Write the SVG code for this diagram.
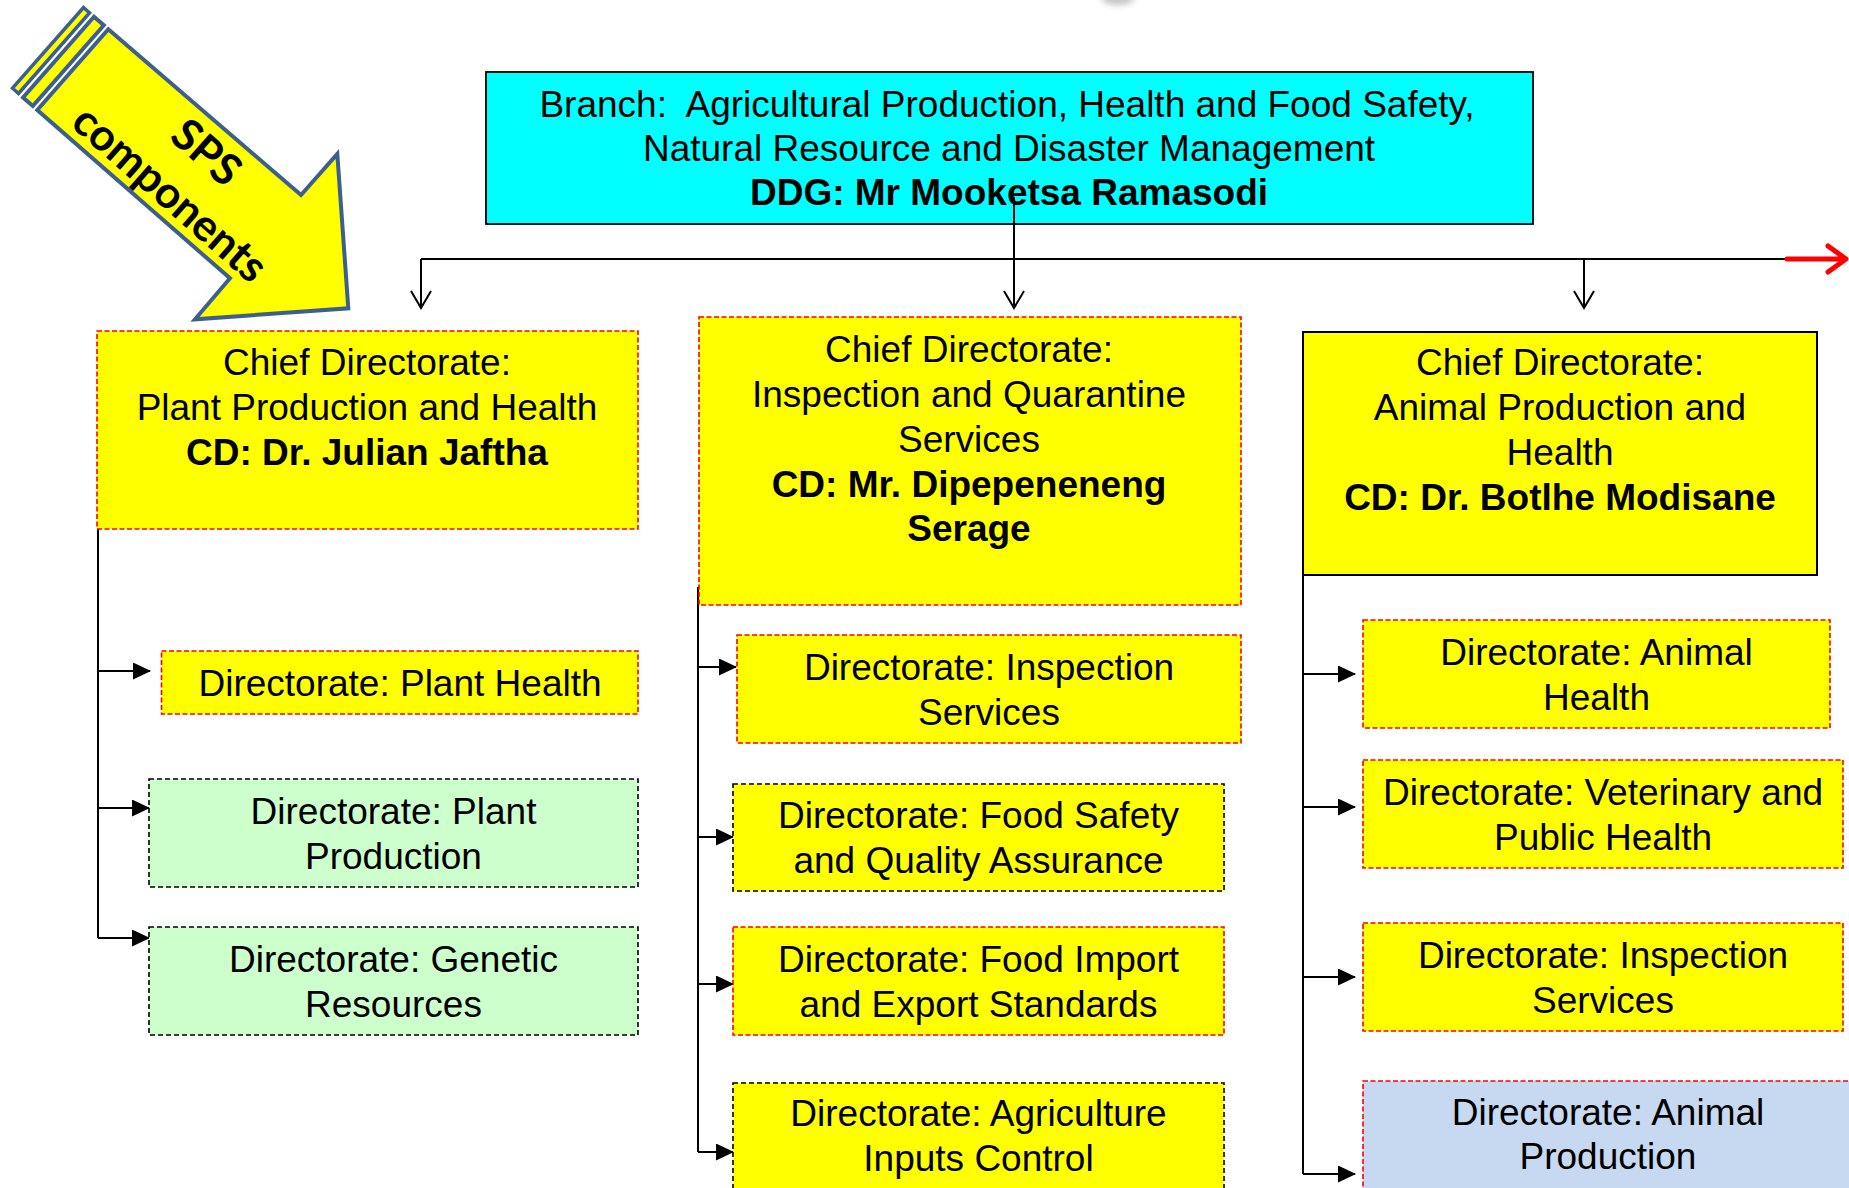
<svg xmlns="http://www.w3.org/2000/svg" width="1849" height="1188" viewBox="0 0 1849 1188">
<style>
.t{font-family:"Liberation Sans",Arial,sans-serif;font-size:37px;fill:#000;text-anchor:middle}
.b{font-weight:bold}
.y{fill:#FFFF00}
.g{fill:#CCFFCC}
.bl{fill:#C6D9F0}
.red{stroke:#FF0000;stroke-width:1.6;stroke-dasharray:5 2.5}
.blk{stroke:#000;stroke-width:1.6;stroke-dasharray:5 3}
.conn{stroke:#000;stroke-width:2;fill:none}
.arr{fill:#FFFF00;stroke:#3D5F8F;stroke-width:4;stroke-linejoin:miter}
.sps{font-family:Lato,"Liberation Sans",sans-serif;font-weight:bold;font-size:44px;fill:#000;text-anchor:middle}
</style>
<defs>
<marker id="ah" markerUnits="userSpaceOnUse" markerWidth="18" markerHeight="17" viewBox="0 0 18 17" refX="17" refY="8.5" orient="auto"><path d="M0,0 L18,8.5 L0,17 z" fill="#000"/></marker>
<marker id="av" markerUnits="userSpaceOnUse" markerWidth="24" markerHeight="24" viewBox="-2 -12 24 24" refX="17" refY="0" orient="auto"><path d="M0,-10 L17,0 L0,10" fill="none" stroke="#000" stroke-width="2"/></marker>
<filter id="blur" x="-50%" y="-50%" width="200%" height="200%"><feGaussianBlur stdDeviation="3"/></filter>
</defs>
<rect width="1849" height="1188" fill="#fff"/>
<ellipse cx="1118" cy="-1" rx="16" ry="6" fill="#888" opacity="0.5" filter="url(#blur)"/>

<g id="sps-arrow">
<polygon class="arr" points="83.5,7.5 89.5,12.8 18.55,93.5 12.55,88.2" style="stroke-width:3.5"/>
<polygon class="arr" points="94,16.8 103.8,25.3 32.85,106 23.05,97.5"/>
<polygon class="arr" points="108.3,29.3 301,195 337.3,154 348.3,308.3 195,319.3 230,278.3 37.3,110"/>
<g transform="translate(189.2,172) rotate(41.3)">
<text class="sps" x="0" y="-11">SPS</text>
<text class="sps" x="0" y="44">components</text>
</g>
</g>

<g id="connectors">
<path class="conn" d="M421,259 H1787"/>
<path d="M1787,259 H1843 M1828,246 L1846,259 L1828,272" fill="none" stroke="#FF0000" stroke-width="5" stroke-linecap="round" stroke-linejoin="round"/>
<path class="conn" d="M421,259 V308" marker-end="url(#av)"/>
<path class="conn" d="M1014,197 V308" marker-end="url(#av)"/>
<path class="conn" d="M1584,259 V308" marker-end="url(#av)"/>
<path class="conn" d="M98,529 V938"/>
<path class="conn" d="M98,671 H150" marker-end="url(#ah)"/>
<path class="conn" d="M98,808 H149" marker-end="url(#ah)"/>
<path class="conn" d="M98,938 H149" marker-end="url(#ah)"/>
<path class="conn" d="M698,587 V1152"/>
<path class="conn" d="M698,667 H736" marker-end="url(#ah)"/>
<path class="conn" d="M698,837 H733" marker-end="url(#ah)"/>
<path class="conn" d="M698,984 H733" marker-end="url(#ah)"/>
<path class="conn" d="M698,1152 H733" marker-end="url(#ah)"/>
<path class="conn" d="M1303,575 V1174"/>
<path class="conn" d="M1303,674 H1355" marker-end="url(#ah)"/>
<path class="conn" d="M1303,807 H1355" marker-end="url(#ah)"/>
<path class="conn" d="M1303,977 H1355" marker-end="url(#ah)"/>
<path class="conn" d="M1303,1174 H1355" marker-end="url(#ah)"/>
</g>

<g id="branch">
<rect x="486" y="72" width="1047" height="152" fill="#00FFFF" stroke="#000" stroke-width="1.8"/>
<text class="t" x="1007" y="117">Branch:&#160; Agricultural Production, Health and Food Safety,</text>
<text class="t" x="1009" y="161">Natural Resource and Disaster Management</text>
<text class="t b" x="1009" y="205">DDG: Mr Mooketsa Ramasodi</text>
</g>
<path class="conn" d="M1014,197 V224"/>

<g id="cd-plant">
<rect class="y red" x="97" y="331" width="541" height="198"/>
<text class="t" x="367" y="375">Chief Directorate:</text>
<text class="t" x="367" y="420">Plant Production and Health</text>
<text class="t b" x="367" y="465">CD: Dr. Julian Jaftha</text>
</g>
<g id="cd-inspection">
<rect class="y red" x="699" y="317" width="542" height="288"/>
<text class="t" x="969" y="362">Chief Directorate:</text>
<text class="t" x="969" y="407">Inspection and Quarantine</text>
<text class="t" x="969" y="452">Services</text>
<text class="t b" x="969" y="497">CD: Mr. Dipepeneneng</text>
<text class="t b" x="969" y="541">Serage</text>
</g>
<g id="cd-animal">
<rect class="y" x="1303" y="332" width="514" height="243" stroke="#000" stroke-width="2"/>
<text class="t" x="1560" y="375">Chief Directorate:</text>
<text class="t" x="1560" y="420">Animal Production and</text>
<text class="t" x="1560" y="465">Health</text>
<text class="t b" x="1560" y="510">CD: Dr. Botlhe Modisane</text>
</g>

<g id="d-plant-health">
<rect class="y red" x="161.5" y="651" width="476.5" height="63"/>
<text class="t" x="400" y="696">Directorate: Plant Health</text>
</g>
<g id="d-plant-production">
<rect class="g blk" x="149" y="779" width="489" height="108"/>
<text class="t" x="393.5" y="823.5">Directorate: Plant</text>
<text class="t" x="393.5" y="868.5">Production</text>
</g>
<g id="d-genetic">
<rect class="g blk" x="149" y="927" width="489" height="108"/>
<text class="t" x="393.5" y="971.5">Directorate: Genetic</text>
<text class="t" x="393.5" y="1016.5">Resources</text>
</g>

<g id="d-inspection">
<rect class="y red" x="737" y="635" width="504" height="108"/>
<text class="t" x="989" y="679.5">Directorate: Inspection</text>
<text class="t" x="989" y="724.5">Services</text>
</g>
<g id="d-food-safety">
<rect class="y blk" x="733" y="784" width="491" height="107"/>
<text class="t" x="978.5" y="828">Directorate: Food Safety</text>
<text class="t" x="978.5" y="873">and Quality Assurance</text>
</g>
<g id="d-food-import">
<rect class="y red" x="733" y="927" width="491" height="108"/>
<text class="t" x="978.5" y="971.5">Directorate: Food Import</text>
<text class="t" x="978.5" y="1016.5">and Export Standards</text>
</g>
<g id="d-agri-inputs">
<rect class="y blk" x="733" y="1083" width="491" height="110"/>
<text class="t" x="978.5" y="1126">Directorate: Agriculture</text>
<text class="t" x="978.5" y="1171">Inputs Control</text>
</g>

<g id="d-animal-health">
<rect class="y red" x="1363" y="620" width="467" height="108"/>
<text class="t" x="1596.5" y="664.5">Directorate: Animal</text>
<text class="t" x="1596.5" y="709.5">Health</text>
</g>
<g id="d-vet">
<rect class="y red" x="1363" y="760" width="480" height="108"/>
<text class="t" x="1603" y="804.5">Directorate: Veterinary and</text>
<text class="t" x="1603" y="849.5">Public Health</text>
</g>
<g id="d-inspection-2">
<rect class="y red" x="1363" y="923" width="480" height="108"/>
<text class="t" x="1603" y="968">Directorate: Inspection</text>
<text class="t" x="1603" y="1013">Services</text>
</g>
<g id="d-animal-production">
<rect class="bl red" x="1363" y="1081" width="492" height="112"/>
<text class="t" x="1608" y="1125">Directorate: Animal</text>
<text class="t" x="1608" y="1169">Production</text>
</g>
</svg>
